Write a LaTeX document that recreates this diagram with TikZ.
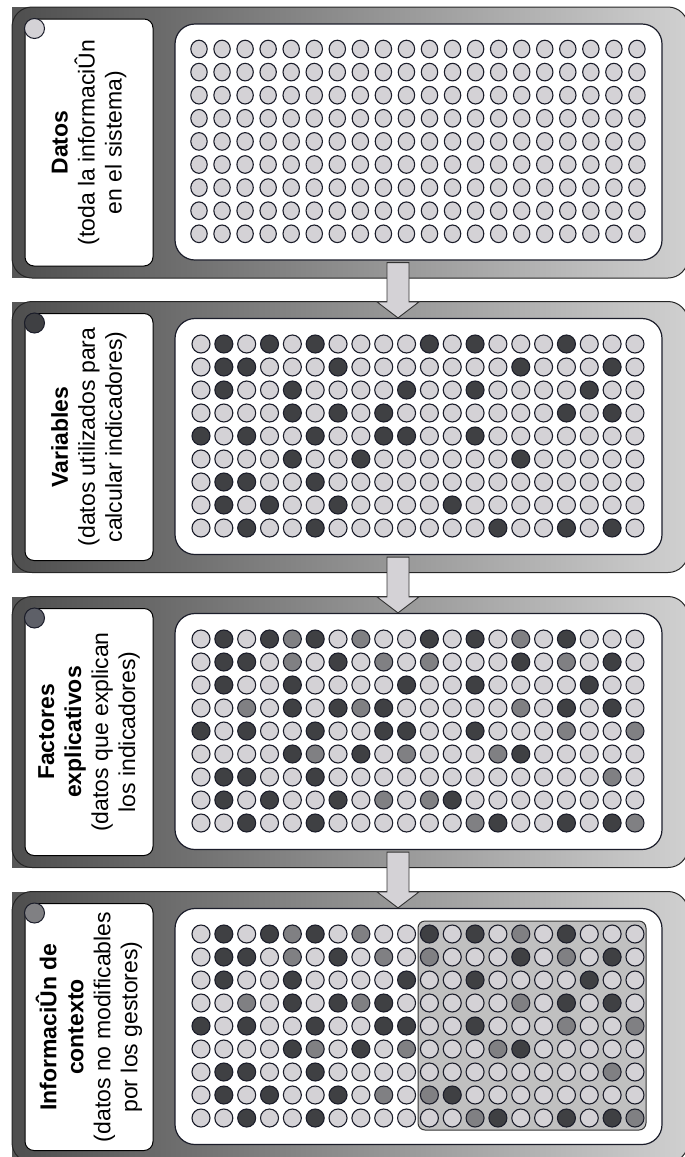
\documentclass[tikz,border=0pt]{standalone}
\usepackage{fontspec}
\setmainfont{Liberation Sans}
\usetikzlibrary{calc}
\definecolor{dotL}{HTML}{D4D2D6}
\definecolor{dotD}{HTML}{3F4043}
\definecolor{dotM}{HTML}{808083}
\colorlet{dA0}{dotL}\colorlet{dA1}{dotD}\colorlet{dA2}{dotM}
\colorlet{dB0}{dotL}\colorlet{dB1}{dotD}\colorlet{dB2}{dotL}
\definecolor{edgec}{HTML}{1B1D2A}
\definecolor{panelL}{HTML}{4E4E4E}
\definecolor{panelR}{HTML}{D0D0D0}
\definecolor{shadowc}{HTML}{575757}
\definecolor{ctxfill}{HTML}{C0C0C0}
\definecolor{corner3}{HTML}{5E6068}
\newcommand\dotrows{{0,1,0,1,2,1,0,2,0,0,1,0,1,0,2,0,1,0,0,0},{0,1,1,0,2,0,1,0,2,0,2,0,0,0,1,0,2,0,1,0},{0,1,0,0,1,0,0,0,0,1,0,0,1,0,0,0,0,1,0,0},{0,0,2,0,1,0,1,2,1,0,0,0,0,0,2,0,1,0,1,0},{1,0,1,0,0,1,0,0,1,1,0,0,1,0,0,0,2,0,0,2},{0,0,0,0,1,2,0,1,0,2,0,0,0,2,1,0,0,0,0,0},{0,1,1,0,0,1,0,0,0,0,0,0,0,0,0,0,0,0,2,0},{0,1,0,1,0,0,1,0,2,0,2,1,0,0,0,0,0,0,0,0},{0,0,1,0,0,1,0,0,0,0,0,0,2,1,0,0,1,0,1,2}}
\begin{document}
\begin{tikzpicture}[x=1pt,y=-1pt,
  panel/.style={draw=black!85, line width=1pt, rounded corners=20pt, left color=panelL, right color=panelR, minimum width=676pt, minimum height=271pt, inner sep=0pt},
  labelbox/.style={draw=black, line width=1pt, fill=white, rounded corners=9pt, minimum width=128pt, minimum height=247pt, inner sep=0pt},
  gridbox/.style={draw=edgec, line width=1.2pt, fill=white, rounded corners=20pt, minimum width=487pt, minimum height=236pt, inner sep=0pt},
  cornerdot/.style={circle, draw=edgec, line width=1pt, minimum size=20pt, inner sep=0pt},
  dotc/.style={draw=edgec, line width=1.1pt},
  ctxbox/.style={draw=black!80, line width=1pt, fill=ctxfill, rounded corners=7pt},
  blockarrow/.style={draw=black!80, line width=0.9pt, fill=dotL},
  lbl/.style={rotate=90, align=center, font=\fontsize{23}{27}\selectfont, inner sep=0pt}]
\useasboundingbox (0,0) rectangle (685,1157);
\clip (0,0) rectangle (685,1157);
\foreach \k/\top/\cc in {1/7/dotL,2/301.5/dotD,3/596.5/corner3,4/891.5/dotM}{
  \fill[shadowc] (12,\top) rectangle (40,\top+271);
  \node[panel] (p\k) at (350,\top+135.5) {};
  \node[labelbox] (l\k) at (89,\top+135.5) {};
  \node[cornerdot, fill=\cc] (c\k) at (34.5,\top+21.5) {};
  \node[gridbox] (g\k) at (418.5,\top+135) {};
}
% panel 1 dots
\foreach \i in {0,...,8}{
  \foreach \j in {0,...,19}{
    \path[dotc, fill=dotL] (199+23.05*\j, 49+23.1*\i) ellipse [x radius=8.2, y radius=8.8];
  }
}
% context overlay in panel 4
\path[ctxbox] (418,891.5+29.5) rectangle (646,891.5+238.5);
% panels 2-4 dots
\foreach \k/\top/\set in {2/301.5/dB,3/596.5/dA,4/891.5/dA}{
  \foreach \row [count=\i from 0] in \dotrows {
    \foreach \val [count=\j from 0] in \row {
      \path[dotc, fill=\set\val] (201+22.84*\j, \top+42.5+23*\i) circle [radius=9];
    }
  }
}
% labels
\node[lbl] (t1) at (l1.center) {\textbf{Datos}\\(toda la informaciÛn\\en el sistema)};
\node[lbl] (t2) at (l2.center) {\textbf{Variables}\\(datos utilizados para\\calcular indicadores)};
\node[lbl] (t3) at (l3.center) {\textbf{Factores}\\\textbf{explicativos}\\(datos que explican\\los indicadores)};
\node[lbl] (t4) at (l4.center) {\textbf{InformaciÛn de}\\\textbf{contexto}\\(datos no modificables\\por los gestores)};
% arrows
\foreach \a/\b in {1/2,2/3,3/4}{
  \draw[blockarrow] ($(g\a.south)+(-31.5,2)$) -- ($(g\b.north)+(-31.5,-16)$) -- ($(g\b.north)+(-41.5,-16)$) -- ($(g\b.north)+(-20.5,0)$) -- ($(g\b.north)+(0.5,-16)$) -- ($(g\b.north)+(-9.5,-16)$) -- ($(g\a.south)+(-9.5,2)$) -- cycle;
}
\end{tikzpicture}
\end{document}
